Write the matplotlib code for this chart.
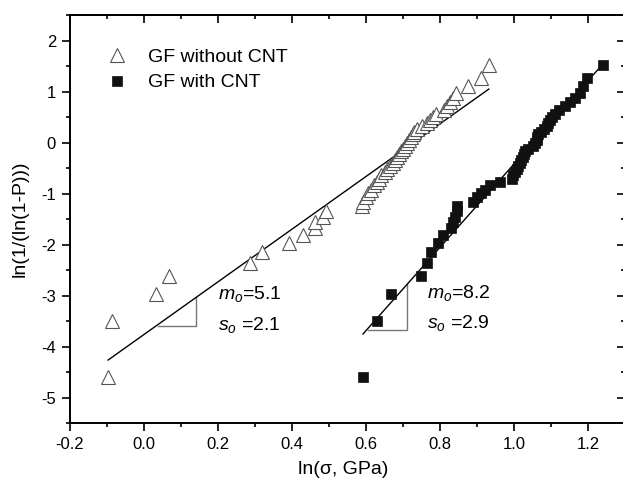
import matplotlib
matplotlib.use("Agg")
import matplotlib.pyplot as plt
from matplotlib.ticker import MultipleLocator

plt.rcParams['font.family'] = ['Liberation Sans', 'DejaVu Sans']
plt.rcParams['mathtext.fontset'] = 'custom'
plt.rcParams['mathtext.rm'] = 'Liberation Sans'
plt.rcParams['mathtext.it'] = 'Liberation Sans:italic'

# Weibull plot levels ln(ln(1/(1-P)))
y_levels = [-4.60, -3.49, -2.97, -2.62, -2.36, -2.15, -1.97, -1.82, -1.68, -1.56,
            -1.45, -1.34, -1.25, -1.16, -1.07, -0.99, -0.92, -0.84, -0.77, -0.71,
            -0.64, -0.58, -0.51, -0.45, -0.40, -0.34, -0.28, -0.23, -0.17, -0.12,
            -0.06, -0.01, 0.05, 0.10, 0.16, 0.21, 0.27, 0.33, 0.39, 0.45,
            0.51, 0.57, 0.64, 0.71, 0.79, 0.88, 0.98, 1.10, 1.26, 1.53]

x_without = [-0.096, -0.087, 0.032, 0.068, 0.286, 0.318, 0.393, 0.431, 0.462, 0.462,
             0.485, 0.492, 0.588, 0.592, 0.600, 0.606, 0.614, 0.622, 0.629, 0.636,
             0.641, 0.650, 0.656, 0.664, 0.672, 0.678, 0.684, 0.690, 0.695, 0.700,
             0.705, 0.710, 0.716, 0.722, 0.727, 0.730, 0.737, 0.750, 0.765, 0.772,
             0.782, 0.790, 0.812, 0.818, 0.827, 0.836, 0.843, 0.877, 0.910, 0.932]

x_with = [0.593, 0.631, 0.667, 0.749, 0.766, 0.777, 0.795, 0.809, 0.830, 0.836,
          0.841, 0.845, 0.847, 0.890, 0.899, 0.912, 0.922, 0.935, 0.962, 0.994,
          0.998, 1.003, 1.008, 1.012, 1.015, 1.020, 1.024, 1.027, 1.031, 1.037,
          1.050, 1.058, 1.061, 1.063, 1.066, 1.072, 1.080, 1.088, 1.092, 1.096,
          1.103, 1.111, 1.122, 1.138, 1.151, 1.165, 1.178, 1.187, 1.196, 1.241]

# fitted lines (slope, intercept, x range)
fit_without = [5.16, -3.76]
fit_without_x = [-0.097, 0.932]
fit_with = [8.16, -8.58]
fit_with_x = [0.592, 1.241]

# slope triangles: x-start, x-end, y base
tri_without = [0.038, 0.141, -3.60]
tri_with = [0.605, 0.711, -3.67]

labels = ["GF without CNT", "GF with CNT"]
ann_without = [r"$m_o$=5.1", r"$s_o$ =2.1"]
ann_with = [r"$m_o$=8.2", r"$s_o$ =2.9"]
ann_without_pos = [(0.200, -2.97), (0.200, -3.58)]
ann_with_pos = [(0.765, -2.95), (0.765, -3.53)]

fig = plt.figure(figsize=(6.23, 4.82), dpi=100)
ax = fig.add_axes([70/623, 58.7/482, 555/623, (467-58.7)/482])

ax.plot(x_without, y_levels, linestyle='none', marker='^', markersize=9.5,
        markerfacecolor='white', markeredgecolor='#555555', markeredgewidth=0.8,
        label=labels[0], zorder=3)
ax.plot(x_with, y_levels, linestyle='none', marker='s', markersize=7.5,
        markerfacecolor='#111111', markeredgecolor='#111111', markeredgewidth=0.5,
        label=labels[1], zorder=3)

for fit, xr in ((fit_without, fit_without_x), (fit_with, fit_with_x)):
    ys = [fit[0] * xv + fit[1] for xv in xr]
    ax.plot(xr, ys, color='black', linewidth=1.0, zorder=2)

for tri, fit in ((tri_without, fit_without), (tri_with, fit_with)):
    x0, x1, yb = tri
    ytop = fit[0] * x1 + fit[1]
    ax.plot([x0, x1, x1], [yb, yb, ytop], color='#777777', linewidth=1.0, zorder=1)

for txt, pos in zip(ann_without + ann_with, ann_without_pos + ann_with_pos):
    ax.text(pos[0], pos[1], txt, fontsize=14, va='center', ha='left')

ax.set_xlim(-0.2, 1.3)
ax.set_ylim(-5.5, 2.5)
ax.xaxis.set_minor_locator(MultipleLocator(0.1))
ax.yaxis.set_minor_locator(MultipleLocator(0.5))
ax.set_xticks([-0.2, 0.0, 0.2, 0.4, 0.6, 0.8, 1.0, 1.2])
ax.set_xticklabels(["-0.2", "0.0", "0.2", "0.4", "0.6", "0.8", "1.0", "1.2"])
ax.set_yticks([-5, -4, -3, -2, -1, 0, 1, 2])
ax.set_yticklabels(["-5", "-4", "-3", "-2", "-1", "0", "1", "2"])

for side in ax.spines.values():
    side.set_linewidth(1.4)
ax.tick_params(which='major', direction='out', length=6, width=1.2, labelsize=12,
               top=False, right=False, pad=4)
ax.tick_params(which='minor', direction='out', length=3, width=1.2, top=False, right=False)
sec_x = ax.secondary_xaxis('top')
sec_x.xaxis.set_major_locator(MultipleLocator(0.2))
sec_x.xaxis.set_minor_locator(MultipleLocator(0.1))
sec_x.tick_params(which='major', direction='in', length=6, width=1.2, labeltop=False)
sec_x.tick_params(which='minor', direction='in', length=3, width=1.2)
sec_x.spines['top'].set_linewidth(1.4)
sec_y = ax.secondary_yaxis('right')
sec_y.yaxis.set_major_locator(MultipleLocator(1))
sec_y.yaxis.set_minor_locator(MultipleLocator(0.5))
sec_y.tick_params(which='major', direction='in', length=6, width=1.2, labelright=False)
sec_y.tick_params(which='minor', direction='in', length=3, width=1.2)

ax.set_xlabel("ln(\u03c3, GPa)", fontsize=14)
ax.set_ylabel("ln(1/(ln(1-P)))", fontsize=14)
ax.xaxis.set_label_coords(0.493, -0.093)
ax.yaxis.set_label_coords(-0.075, 0.5)

ax.legend(loc='upper left', bbox_to_anchor=(0.053, 0.938), frameon=False,
          fontsize=14, handlelength=1.0, handletextpad=1.1, labelspacing=0.42,
          borderaxespad=0.0)

fig.savefig("out.png", dpi=100)
